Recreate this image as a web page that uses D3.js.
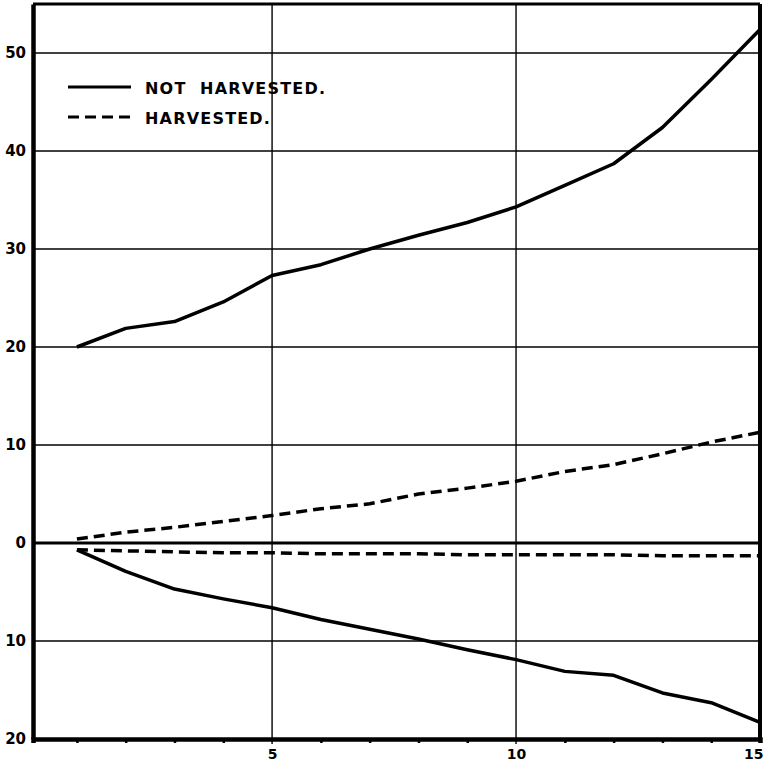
<!DOCTYPE html>
<html>
<head>
<meta charset="utf-8">
<script src="https://cdn.jsdelivr.net/npm/d3@7"></script>
<style>
  body { margin: 0; background: #fff; }
  svg text { font-family: "DejaVu Sans", sans-serif; font-weight: bold; fill: #000; }
</style>
</head>
<body>
<div id="chart"></div>
<script>
// years after start
var years = [1, 2, 3, 4, 5, 6, 7, 8, 9, 10, 11, 12, 13, 14, 15];

// growth, not harvested (above zero line)
var notHarvestedUp = [20, 21.9, 22.6, 24.6, 27.3, 28.4, 30.0, 31.4, 32.7, 34.3, 36.5, 38.7, 42.4, 47.3, 52.4];
// harvested (above zero line)
var harvestedUp = [0.4, 1.1, 1.6, 2.2, 2.8, 3.5, 4.0, 5.0, 5.6, 6.3, 7.3, 8.0, 9.1, 10.3, 11.3];
// harvested (below zero line)
var harvestedDown = [-0.7, -0.8, -0.9, -1.0, -1.0, -1.1, -1.1, -1.1, -1.2, -1.2, -1.2, -1.2, -1.3, -1.3, -1.3];
// not harvested (below zero line)
var notHarvestedDown = [-0.7, -2.9, -4.7, -5.7, -6.6, -7.8, -8.8, -9.8, -10.9, -11.9, -13.1, -13.5, -15.3, -16.3, -18.3];

var yTicks = [-20, -10, 0, 10, 20, 30, 40, 50];
var xLabels = [5, 10, 15];
var xMinor = [1, 2, 3, 4, 6, 7, 8, 9, 11, 12, 13, 14];

var legendItems = [
  { label: "NOT  HARVESTED.", dash: null },
  { label: "HARVESTED.", dash: "11,6" }
];

var width = 764, height = 762;

var svg = d3.select('#chart').append('svg')
  .attr('width', width)
  .attr('height', height);

var x = d3.scaleLinear().domain([0.1, 15]).range([33, 760]);
var y = d3.scaleLinear().domain([-20, 55]).range([739, 4]);

// grid lines
var grid = svg.append('g').attr('class', 'grid');

grid.selectAll('.hgrid')
  .data(yTicks.filter(function (d) { return d !== -20 && d !== 0; }))
  .enter().append('line')
  .attr('x1', x(0.1)).attr('x2', x(15))
  .attr('y1', function (d) { return y(d); })
  .attr('y2', function (d) { return y(d); })
  .attr('stroke', '#000').attr('stroke-width', 1.4);

grid.selectAll('.vgrid')
  .data([5, 10])
  .enter().append('line')
  .attr('x1', function (d) { return x(d); })
  .attr('x2', function (d) { return x(d); })
  .attr('y1', y(55)).attr('y2', y(-20) + 5)
  .attr('stroke', '#000').attr('stroke-width', 1.4);

// zero line, heavier
grid.append('line')
  .attr('x1', x(0.1)).attr('x2', x(15))
  .attr('y1', y(0)).attr('y2', y(0))
  .attr('stroke', '#000').attr('stroke-width', 3);

// frame
svg.append('line') // top
  .attr('x1', x(0.1)).attr('x2', x(15)).attr('y1', y(55)).attr('y2', y(55))
  .attr('stroke', '#000').attr('stroke-width', 3);
svg.append('line') // right
  .attr('x1', x(15)).attr('x2', x(15)).attr('y1', y(55)).attr('y2', y(-20))
  .attr('stroke', '#000').attr('stroke-width', 4);

// left axis
var yAxis = d3.axisLeft(y)
  .tickValues(yTicks)
  .tickSize(0)
  .tickPadding(7)
  .tickFormat(function (d) { return Math.abs(d); });

var gy = svg.append('g')
  .attr('transform', 'translate(' + x(0.1) + ',0)')
  .call(yAxis);
gy.select('.domain').attr('stroke', '#000').attr('stroke-width', 4.5);
gy.selectAll('text').style('font-size', '15px').style('font-family', '"DejaVu Sans", sans-serif').style('font-weight', 'bold');

// bottom axis
var xAxis = d3.axisBottom(x)
  .tickValues(xMinor)
  .tickSize(4)
  .tickFormat('');

var gx = svg.append('g')
  .attr('transform', 'translate(0,' + y(-20) + ')')
  .call(xAxis);
gx.select('.domain').attr('stroke', '#000').attr('stroke-width', 4.5);
gx.selectAll('.tick line').attr('stroke', '#000').attr('stroke-width', 2.5);

var gxl = svg.append('g')
  .attr('transform', 'translate(0,' + y(-20) + ')')
  .call(d3.axisBottom(x).tickValues(xLabels).tickSize(0).tickPadding(10));
gxl.select('.domain').remove();
gxl.selectAll('text').style('font-size', '14px').style('font-family', '"DejaVu Sans", sans-serif').style('font-weight', 'bold');
// last label sits on the right edge: keep it inside the page
gxl.selectAll('text').filter(function (d) { return d === 15; })
  .attr('text-anchor', 'end').attr('dx', 3);

// lines
var line = d3.line()
  .x(function (d) { return x(d[0]); })
  .y(function (d) { return y(d[1]); });

var series = [
  { values: notHarvestedUp, dash: null },
  { values: harvestedUp, dash: '11,6' },
  { values: harvestedDown, dash: '11,6' },
  { values: notHarvestedDown, dash: null }
];

svg.selectAll('.series')
  .data(series)
  .enter().append('path')
  .attr('class', 'series')
  .attr('d', function (s) { return line(years.map(function (yr, i) { return [yr, s.values[i]]; })); })
  .attr('fill', 'none')
  .attr('stroke', '#000')
  .attr('stroke-width', 3.5)
  .attr('stroke-linejoin', 'round')
  .attr('stroke-dasharray', function (s) { return s.dash; });

// legend
var legend = svg.append('g').attr('transform', 'translate(68,87)');
var li = legend.selectAll('.li')
  .data(legendItems)
  .enter().append('g')
  .attr('transform', function (d, i) { return 'translate(0,' + (i * 30) + ')'; });

li.append('line')
  .attr('x1', 0).attr('x2', 63)
  .attr('stroke', '#000').attr('stroke-width', 3)
  .attr('stroke-dasharray', function (d) { return d.dash; });

li.append('text')
  .attr('x', 77).attr('y', 7)
  .style('font-size', '16px')
  .style('letter-spacing', '1.2px')
  .style('white-space', 'pre')
  .text(function (d) { return d.label; });
</script>
</body>
</html>
